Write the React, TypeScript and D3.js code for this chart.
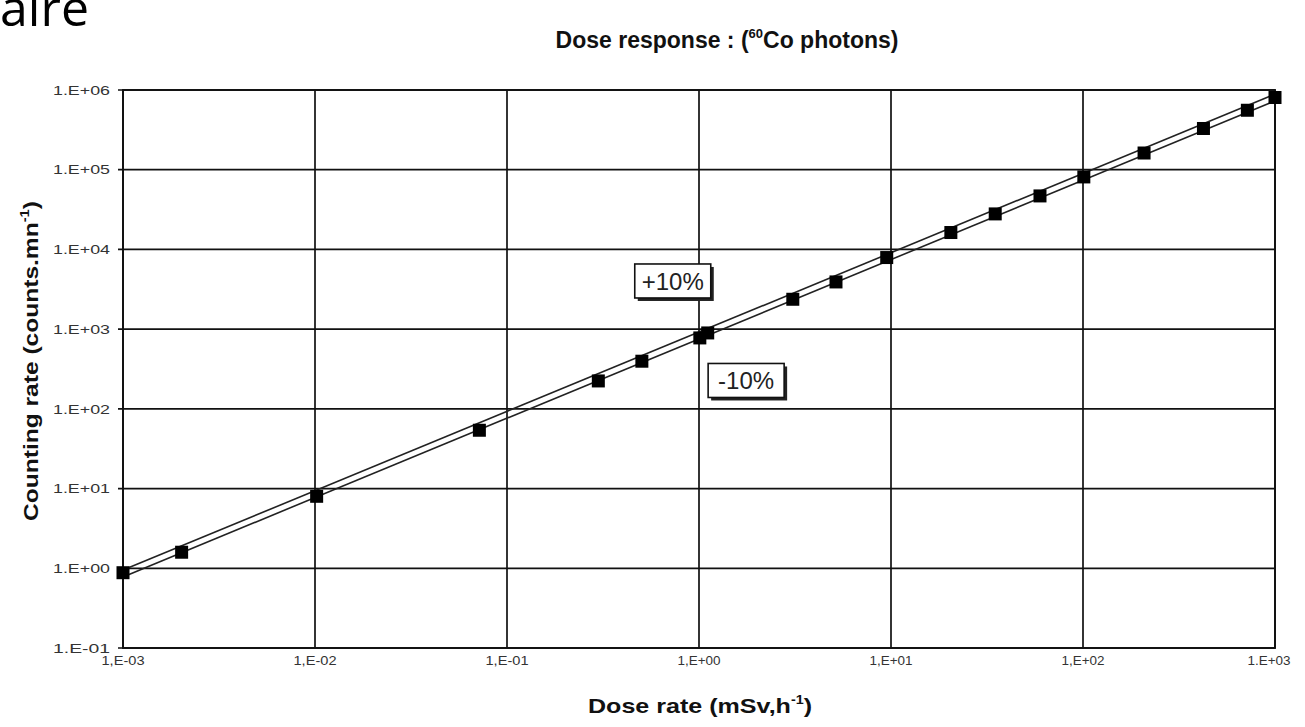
import React from "react";
import * as d3 from "d3";

const doseRates = [0.001, 0.00202, 0.0102, 0.0718, 0.299, 0.504, 1.01, 1.11, 3.08, 5.17, 9.5, 20.5, 34.9, 59.7, 101, 208, 424, 718, 1000];
const counts = [0.88, 1.59, 8.0, 53.9, 224, 396, 776, 896, 2370, 3910, 7910, 16300, 27900, 46900, 81200, 162000, 329000, 557000, 805000];

const bandX = [0.001, 1000];
const upperBand = [0.95, 890000];
const lowerBand = [0.78, 730000];

const xTicks = [1e-3, 1e-2, 1e-1, 1, 10, 100, 1000];
const xTickLabels = ["1,E-03", "1,E-02", "1,E-01", "1,E+00", "1,E+01", "1,E+02", "1.E+03"];
const yTicks = [1e-1, 1, 10, 100, 1e3, 1e4, 1e5, 1e6];
const yTickLabels = ["1.E-01", "1.E+00", "1.E+01", "1.E+02", "1.E+03", "1.E+04", "1.E+05", "1.E+06"];

const annotations = [
  { text: "+10%", x: 0.73, y: 4020 },
  { text: "-10%", x: 1.76, y: 227 },
];

const W = 1305, H = 727;
const L = 123, R = 1275, T = 90, B = 648;
const FONT = "'Liberation Sans', Arial, sans-serif";

export default function App() {
  const x = d3.scaleLog().domain([1e-3, 1e3]).range([L, R]);
  const y = d3.scaleLog().domain([0.1, 1e6]).range([B, T]);
  const line = d3.line<[number, number]>().x(d => x(d[0])).y(d => y(d[1]));
  const up: [number, number][] = bandX.map((v, i) => [v, upperBand[i]]);
  const lo: [number, number][] = bandX.map((v, i) => [v, lowerBand[i]]);
  const ms = 13;

  return (
    <svg width={W} height={H} style={{ position: "absolute", left: 0, top: 0, background: "#fff" }}>
      <text x={89} y={26} textAnchor="end" fontFamily="'Open Sans', 'Noto Sans', sans-serif" fontSize={50} fill="#000">aire</text>

      <text x={727} y={48} textAnchor="middle" fontFamily={FONT} fontWeight="bold" fontSize={23} fill="#111">
        Dose response : (<tspan fontSize={13} dy={-10}>60</tspan><tspan dy={10}>Co photons)</tspan>
      </text>

      {/* grid */}
      {yTicks.map((t, i) => (
        <g key={"y" + i}>
          <line x1={L - 5} x2={R} y1={y(t)} y2={y(t)} stroke="#111" strokeWidth={1.7} />
          <text x={110} y={y(t)} dy="0.35em" textAnchor="end" fontFamily={FONT} fontSize={13.5} fill="#333" textLength={57} lengthAdjust="spacingAndGlyphs">{yTickLabels[i]}</text>
        </g>
      ))}
      {xTicks.map((t, i) => (
        <g key={"x" + i}>
          <line x1={x(t)} x2={x(t)} y1={T} y2={B} stroke="#111" strokeWidth={1.7} />
          <text x={i === xTicks.length - 1 ? x(t) - 6 : x(t)} y={665} textAnchor="middle" fontFamily={FONT} fontSize={13.5} fill="#333" textLength={43} lengthAdjust="spacingAndGlyphs">{xTickLabels[i]}</text>
        </g>
      ))}
      <rect x={L} y={T} width={R - L} height={B - T} fill="none" stroke="#111" strokeWidth={1.9} />

      {/* band lines */}
      <path d={line(up) || ""} fill="none" stroke="#222" strokeWidth={1.6} />
      <path d={line(lo) || ""} fill="none" stroke="#222" strokeWidth={1.6} />

      {/* markers */}
      {doseRates.map((d, i) => (
        <rect key={"m" + i} x={x(d) - ms / 2} y={y(counts[i]) - ms / 2} width={ms} height={ms} fill="#000" />
      ))}

      {/* annotations */}
      {annotations.map((a, i) => {
        const cx = x(a.x), cy = y(a.y);
        const bw = 76, bh = 34;
        return (
          <g key={"a" + i}>
            <rect x={cx - bw / 2 + 3} y={cy - bh / 2 + 3} width={bw} height={bh} fill="#222" />
            <rect x={cx - bw / 2} y={cy - bh / 2} width={bw} height={bh} fill="#fff" stroke="#111" strokeWidth={1.6} />
            <text x={cx} y={cy} dy="0.36em" textAnchor="middle" fontFamily={FONT} fontSize={24} fill="#222">{a.text}</text>
          </g>
        );
      })}

      {/* axis titles */}
      <text x={700} y={713} textAnchor="middle" fontFamily={FONT} fontWeight="bold" fontSize={21} fill="#111" textLength={224} lengthAdjust="spacingAndGlyphs">
        Dose rate (mSv,h<tspan fontSize={12} dy={-9}>-1</tspan><tspan dy={9}>)</tspan>
      </text>
      <text transform="translate(38,361) rotate(-90)" textAnchor="middle" fontFamily={FONT} fontWeight="bold" fontSize={20} fill="#111" textLength={320} lengthAdjust="spacingAndGlyphs">
        Counting rate (counts.mn<tspan fontSize={12} dy={-9}>-1</tspan><tspan dy={9}>)</tspan>
      </text>
    </svg>
  );
}
